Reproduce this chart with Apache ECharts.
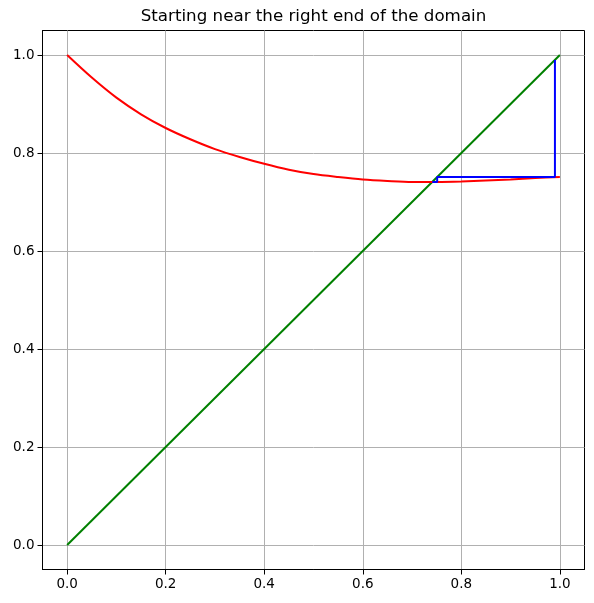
<!DOCTYPE html>
<html>
<head>
<meta charset="utf-8">
<script src="https://cdn.jsdelivr.net/npm/echarts@6/dist/echarts.min.js"></script>
<style>html,body{margin:0;padding:0;background:#fff;}#c{width:594px;height:603px;}</style>
</head>
<body>
<div id="c"></div>
<script>
const titleText = 'Starting near the right end of the domain';
const tickValues = [0, 0.2, 0.4, 0.6, 0.8, 1.0];
const curveX = [0, 0.05, 0.10, 0.15, 0.20, 0.25, 0.30, 0.35, 0.40, 0.45, 0.50, 0.55, 0.60, 0.65, 0.70, 0.75, 0.80, 0.85, 0.90, 0.95, 1.00];
const curveY = [1.000, 0.954, 0.913, 0.879, 0.851, 0.828, 0.808, 0.792, 0.778, 0.766, 0.757, 0.751, 0.746, 0.743, 0.741, 0.741, 0.742, 0.744, 0.746, 0.749, 0.751];
const diagX = [0, 1];
const diagY = [0, 1];
const cobwebX = [0.99, 0.99, 0.751, 0.751, 0.741];
const cobwebY = [0.99, 0.751, 0.751, 0.741, 0.741];

const zip = (a, b) => a.map((v, i) => [v, b[i]]);
const fmt = v => v.toFixed(1);
const font = 'DejaVu Sans';

function axis() {
  return {
    type: 'value', min: -0.05, max: 1.05,
    axisLine: { show: true, onZero: false, lineStyle: { color: '#000', width: 1 } },
    axisTick: { show: true, length: 5, lineStyle: { color: '#000', width: 1 }, customValues: tickValues },
    axisLabel: { show: true, customValues: tickValues, formatter: fmt, color: '#000', fontFamily: font, fontSize: 13.5, margin: 8 },
    splitLine: { show: true, lineStyle: { color: '#b0b0b0', width: 1 } }
  };
}

const chart = echarts.init(document.getElementById('c'), null, { renderer: 'canvas' });
chart.setOption({
  animation: false,
  backgroundColor: '#fff',
  graphic: [{ type: 'text', x: 313.5, y: 17, style: { text: titleText, textAlign: 'center', textVerticalAlign: 'middle', font: '16.7px "DejaVu Sans"', fill: '#000' } }],
  grid: { left: 42.5, right: 9.5, top: 30.5, bottom: 33.5, show: true, borderColor: '#000', borderWidth: 1, containLabel: false },
  xAxis: axis(),
  yAxis: axis(),
  series: [
    { type: 'line', data: zip(diagX, diagY), showSymbol: false, lineStyle: { color: '#008000', width: 2 }, z: 2 },
    { type: 'line', data: zip(curveX, curveY), showSymbol: false, smooth: 0.3, lineStyle: { color: '#ff0000', width: 2 }, z: 3 },
    { type: 'line', data: zip(cobwebX, cobwebY), showSymbol: false, lineStyle: { color: '#0000ff', width: 2 }, z: 4 }
  ]
});
</script>
</body>
</html>
